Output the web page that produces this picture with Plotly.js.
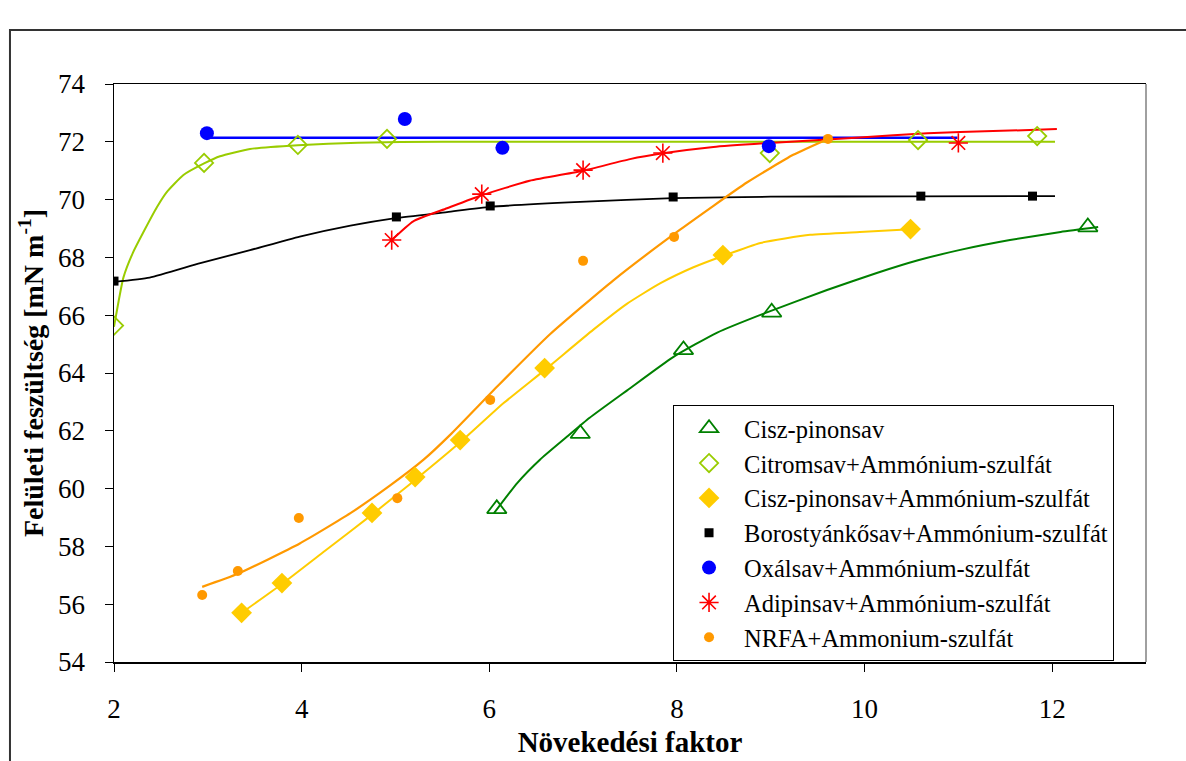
<!DOCTYPE html>
<html>
<head>
<meta charset="utf-8">
<script src="https://cdn.plot.ly/plotly-3.0.1.min.js"></script>
<style>
  html, body { margin: 0; padding: 0; background: #ffffff; }
  #chart { width: 1186px; height: 761px; }
</style>
</head>
<body>
<div id="chart"></div>
<script>
// Measured points (growth factor vs. surface tension, mN/m)
const cpX = [6.08, 6.97, 8.07, 9.01, 12.38];
const cpY = [59.3, 61.9, 64.8, 66.1, 69.05];

const citX = [2.0, 2.96, 3.96, 4.91, 8.99, 10.57, 11.84];
const citY = [65.64, 71.27, 71.89, 72.1, 71.61, 72.06, 72.2];

const cpasX = [3.36, 3.79, 4.75, 5.21, 5.69, 6.59, 8.49, 10.49];
const cpasY = [55.7, 56.73, 59.16, 60.4, 61.68, 64.17, 68.08, 68.98];

const borX = [2.0, 5.01, 6.01, 7.96, 10.6, 11.79];
const borY = [67.18, 69.4, 69.78, 70.09, 70.12, 70.12];

const oxX = [2.99, 5.1, 6.14, 8.98];
const oxY = [72.3, 72.79, 71.79, 71.85];

const adX = [4.96, 5.92, 7.0, 7.85, 11.0];
const adY = [68.6, 70.19, 71.02, 71.61, 71.96];

const nrX = [2.94, 3.32, 3.97, 5.02, 6.01, 7.0, 7.97, 9.61];
const nrY = [56.32, 57.15, 58.98, 59.67, 63.07, 67.88, 68.71, 72.1];

// Fitted trend curves
const cpFitX = [6.05, 6.3, 6.54, 6.83, 7.07, 7.47, 7.96, 8.43, 8.96, 9.6, 10.13, 10.57, 11.02, 11.55, 12.09, 12.49];
const cpFitY = [59.15, 60.2, 61.0, 61.8, 62.45, 63.4, 64.55, 65.4, 66.1, 66.87, 67.46, 67.9, 68.26, 68.6, 68.88, 69.05];

const citFitX = [2.0, 2.05, 2.1, 2.2, 2.31, 2.46, 2.56, 2.74, 2.96, 3.13, 3.45, 3.96, 4.6, 5.5, 6.5, 8.0, 10.0, 12.03];
const citFitY = [65.6, 66.5, 67.3, 68.15, 68.85, 69.75, 70.25, 70.85, 71.25, 71.5, 71.75, 71.88, 71.97, 72.0, 72.0, 72.0, 72.0, 72.0];

const cpasFitX = [3.36, 3.79, 4.25, 4.75, 5.21, 5.69, 6.15, 6.59, 7.11, 7.47, 7.82, 8.17, 8.49, 8.89, 9.42, 9.95, 10.49];
const cpasFitY = [55.7, 56.7, 57.85, 59.1, 60.3, 61.6, 62.95, 64.1, 65.5, 66.4, 67.1, 67.65, 68.05, 68.5, 68.78, 68.88, 68.97];

const borFitX = [2.0, 2.38, 2.92, 3.45, 3.98, 4.52, 5.0, 5.55, 6.01, 6.97, 7.96, 9.0, 10.5, 12.03];
const borFitY = [67.15, 67.3, 67.8, 68.25, 68.72, 69.1, 69.36, 69.57, 69.75, 69.92, 70.05, 70.1, 70.11, 70.12];

const oxFitX = [2.99, 10.99];
const oxFitY = [72.14, 72.14];

const adFitX = [4.96, 5.19, 5.55, 5.92, 6.43, 7.0, 7.5, 7.85, 8.39, 8.99, 9.95, 10.67, 11.37, 12.05];
const adFitY = [68.6, 69.25, 69.7, 70.15, 70.65, 71.0, 71.4, 71.6, 71.82, 71.96, 72.15, 72.3, 72.37, 72.44];

const nrFitX = [2.94, 3.32, 3.98, 4.52, 4.94, 5.3, 5.58, 6.09, 6.65, 7.32, 8.03, 8.75, 9.24, 9.61];
const nrFitY = [56.6, 57.05, 58.1, 59.15, 60.1, 61.0, 61.85, 63.55, 65.35, 67.2, 68.95, 70.6, 71.55, 72.1];

// Series names
const names = [
  'Cisz-pinonsav',
  'Citromsav+Ammónium-szulfát',
  'Cisz-pinonsav+Ammónium-szulfát',
  'Borostyánkősav+Ammónium-szulfát',
  'Oxálsav+Ammónium-szulfát',
  'Adipinsav+Ammónium-szulfát',
  'NRFA+Ammonium-szulfát'
];

const xTicks = [2, 4, 6, 8, 10, 12];
const yTicks = [54, 56, 58, 60, 62, 64, 66, 68, 70, 72, 74];

const serif = '"Liberation Serif", "Times New Roman", serif';

function curve(x, y, color, w) {
  return {
    x: x, y: y, mode: 'lines', type: 'scatter', showlegend: false, hoverinfo: 'skip',
    line: { color: color, width: w || 2, shape: 'spline', smoothing: 0.5 }
  };
}
function pts(x, y, name, marker) {
  return { x: x, y: y, mode: 'markers', type: 'scatter', name: name, marker: marker };
}

const traces = [
  curve(oxFitX, oxFitY, '#0000FF', 2.5),
  curve(citFitX, citFitY, '#99CC00', 2),
  curve(borFitX, borFitY, '#000000', 1.8),
  curve(adFitX, adFitY, '#FF0000', 2),
  curve(nrFitX, nrFitY, '#FF9900', 2.2),
  curve(cpasFitX, cpasFitY, '#FFCC00', 2),
  curve(cpFitX, cpFitY, '#008000', 2),

  pts(cpX, cpY, names[0], { symbol: 'triangle-up-open', size: 17, color: '#008000', line: { color: '#008000', width: 1.8 } }),
  pts(citX, citY, names[1], { symbol: 'diamond-open', size: 14, color: '#99CC00', line: { color: '#99CC00', width: 1.8 } }),
  pts(cpasX, cpasY, names[2], { symbol: 'diamond', size: 16, color: '#FFCC00' }),
  pts(borX, borY, names[3], { symbol: 'square', size: 9, color: '#000000' }),
  pts(oxX, oxY, names[4], { symbol: 'circle', size: 14, color: '#0000FF' }),
  pts(adX, adY, names[5], { symbol: 'asterisk-open', size: 16, color: '#FF0000', line: { color: '#FF0000', width: 1.6 } }),
  pts(nrX, nrY, names[6], { symbol: 'circle', size: 10, color: '#FF9900' })
];

const layout = {
  width: 1186, height: 761,
  margin: { l: 114, r: 40, t: 84, b: 99 },
  paper_bgcolor: '#ffffff', plot_bgcolor: '#ffffff',
  font: { family: serif, color: '#000000', size: 26 },
  showlegend: true,
  legend: {
    x: 0.5417, y: 0.445, xanchor: 'left', yanchor: 'top',
    bgcolor: '#ffffff', bordercolor: '#000000', borderwidth: 1,
    font: { family: serif, size: 24.5, color: '#000000' },
    itemwidth: 60, tracegroupgap: 0
  },
  xaxis: {
    range: [2, 13], tickvals: xTicks, ticktext: xTicks.map(String),
    showgrid: false, zeroline: false,
    showline: true, linecolor: '#000000', linewidth: 1.5, mirror: true,
    ticks: 'outside', ticklen: 8, tickwidth: 1, tickcolor: '#000000',
    ticklabelstandoff: 14,
    tickfont: { family: serif, size: 27 },
    title: { text: 'Növekedési faktor', font: { family: serif, size: 29, weight: 700 }, standoff: 9 }
  },
  yaxis: {
    range: [54, 74], tickvals: yTicks, ticktext: yTicks.map(String),
    showgrid: false, zeroline: false,
    showline: true, linecolor: '#000000', linewidth: 1.5,
    ticks: 'outside', ticklen: 8, tickwidth: 1, tickcolor: '#000000',
    ticklabelstandoff: 14,
    tickfont: { family: serif, size: 27 },
    title: { text: 'Felületi feszültség [mN m<sup>-1</sup>]', font: { family: serif, size: 28, weight: 700 }, standoff: 6 }
  },
  shapes: [
    // right edge of the plotting area
    { type: 'line', xref: 'paper', yref: 'paper', x0: 1, x1: 1, y0: 0, y1: 1,
      line: { color: '#808080', width: 1.5 } },
    // outer chart frame
    { type: 'rect', xref: 'paper', yref: 'paper', x0: -0.1008, x1: 1.06, y0: -0.2, y1: 1.0934,
      line: { color: '#333333', width: 2 }, fillcolor: 'rgba(0,0,0,0)', layer: 'below' }
  ]
};

Plotly.newPlot('chart', traces, layout, { displayModeBar: false, staticPlot: true });
</script>
</body>
</html>
